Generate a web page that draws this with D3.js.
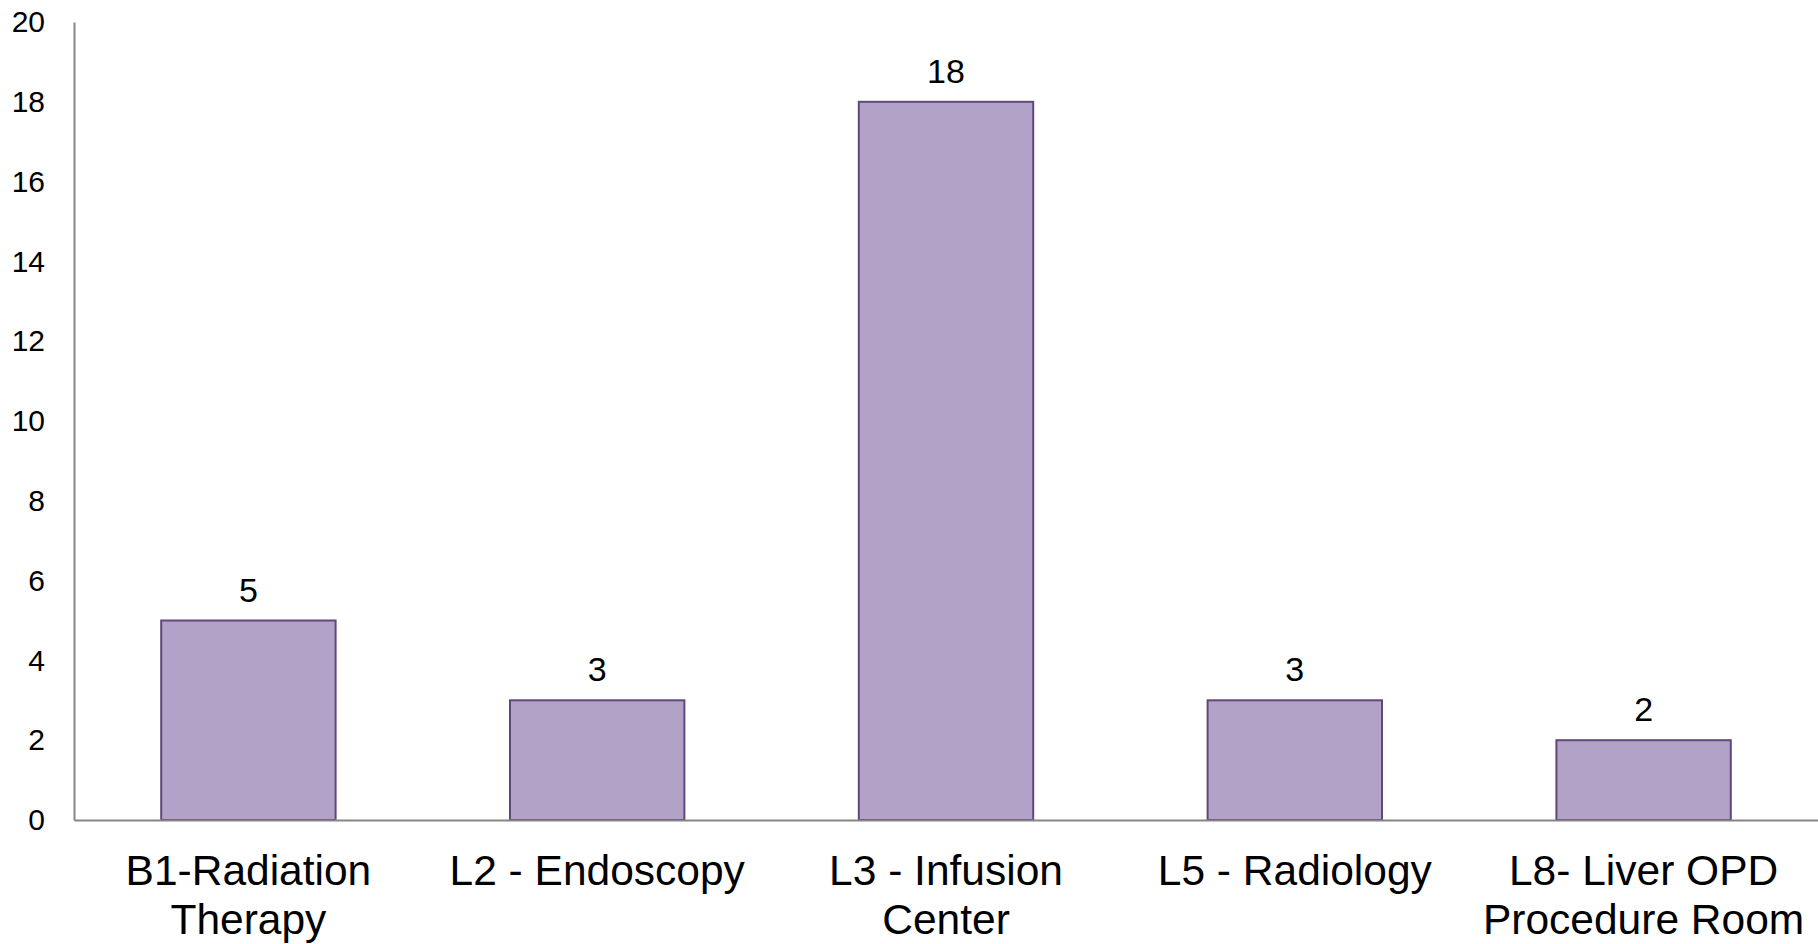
<!DOCTYPE html>
<html><head><meta charset="utf-8">
<script src="https://cdn.jsdelivr.net/npm/d3@7"></script>
<style>html,body{margin:0;padding:0;background:#fff;}svg{display:block;}</style>
</head><body>
<svg id="chart" width="1818" height="944"></svg>
<script>
const categories = [["B1-Radiation","Therapy"],["L2 - Endoscopy"],["L3 - Infusion","Center"],["L5 - Radiology"],["L8- Liver OPD","Procedure Room"]];
const values = [5, 3, 18, 3, 2];
const yTicks = [0, 2, 4, 6, 8, 10, 12, 14, 16, 18, 20];

(function(){
const svg = d3.select("#chart");
const font = "Liberation Sans, Arial, sans-serif";
const mLeft = 74, mRight = 1818, mTop = 22, mBottom = 820;
const keys = categories.map(c => c.join(" "));
const x = d3.scaleBand().domain(keys).range([mLeft, mRight]).paddingInner(0.5).paddingOuter(0.25);
const y = d3.scaleLinear().domain([0, 20]).range([mBottom, mTop]);

svg.selectAll("rect.bar").data(values).enter().append("rect")
  .attr("class","bar")
  .attr("x",(d,i)=>x(keys[i]))
  .attr("y",d=>y(d))
  .attr("width",x.bandwidth())
  .attr("height",d=>y(0)-y(d))
  .attr("fill","#B3A2C7")
  .attr("stroke","#5F497A")
  .attr("stroke-width",2);

// y axis
const yAxis = svg.append("g").attr("transform",`translate(${mLeft},0)`)
  .call(d3.axisLeft(y).tickValues(yTicks).tickSize(0).tickPadding(29));
yAxis.select(".domain").attr("stroke","#868686").attr("stroke-width",2);
yAxis.selectAll("text").attr("font-family",font).attr("font-size",30).attr("fill","#000");

// x axis
const xAxis = svg.append("g").attr("transform",`translate(0,${mBottom})`)
  .call(d3.axisBottom(x).tickSize(0).tickFormat(""));
xAxis.select(".domain").attr("stroke","#868686").attr("stroke-width",2);

// category labels
categories.forEach((lines,i)=>{
  const t = svg.append("text").attr("text-anchor","middle")
    .attr("font-family",font).attr("font-size",42.5).attr("fill","#000");
  lines.forEach((ln,j)=>{
    t.append("tspan").attr("x",x(keys[i])+x.bandwidth()/2).attr("y",mBottom+65+j*49).text(ln);
  });
});

// value labels
svg.selectAll("text.val").data(values).enter().append("text")
  .attr("class","val")
  .attr("x",(d,i)=>x(keys[i])+x.bandwidth()/2)
  .attr("y",d=>y(d)-19)
  .attr("text-anchor","middle")
  .attr("font-family",font).attr("font-size",34).attr("fill","#000")
  .text(d=>d);
})();
</script>
</body></html>
